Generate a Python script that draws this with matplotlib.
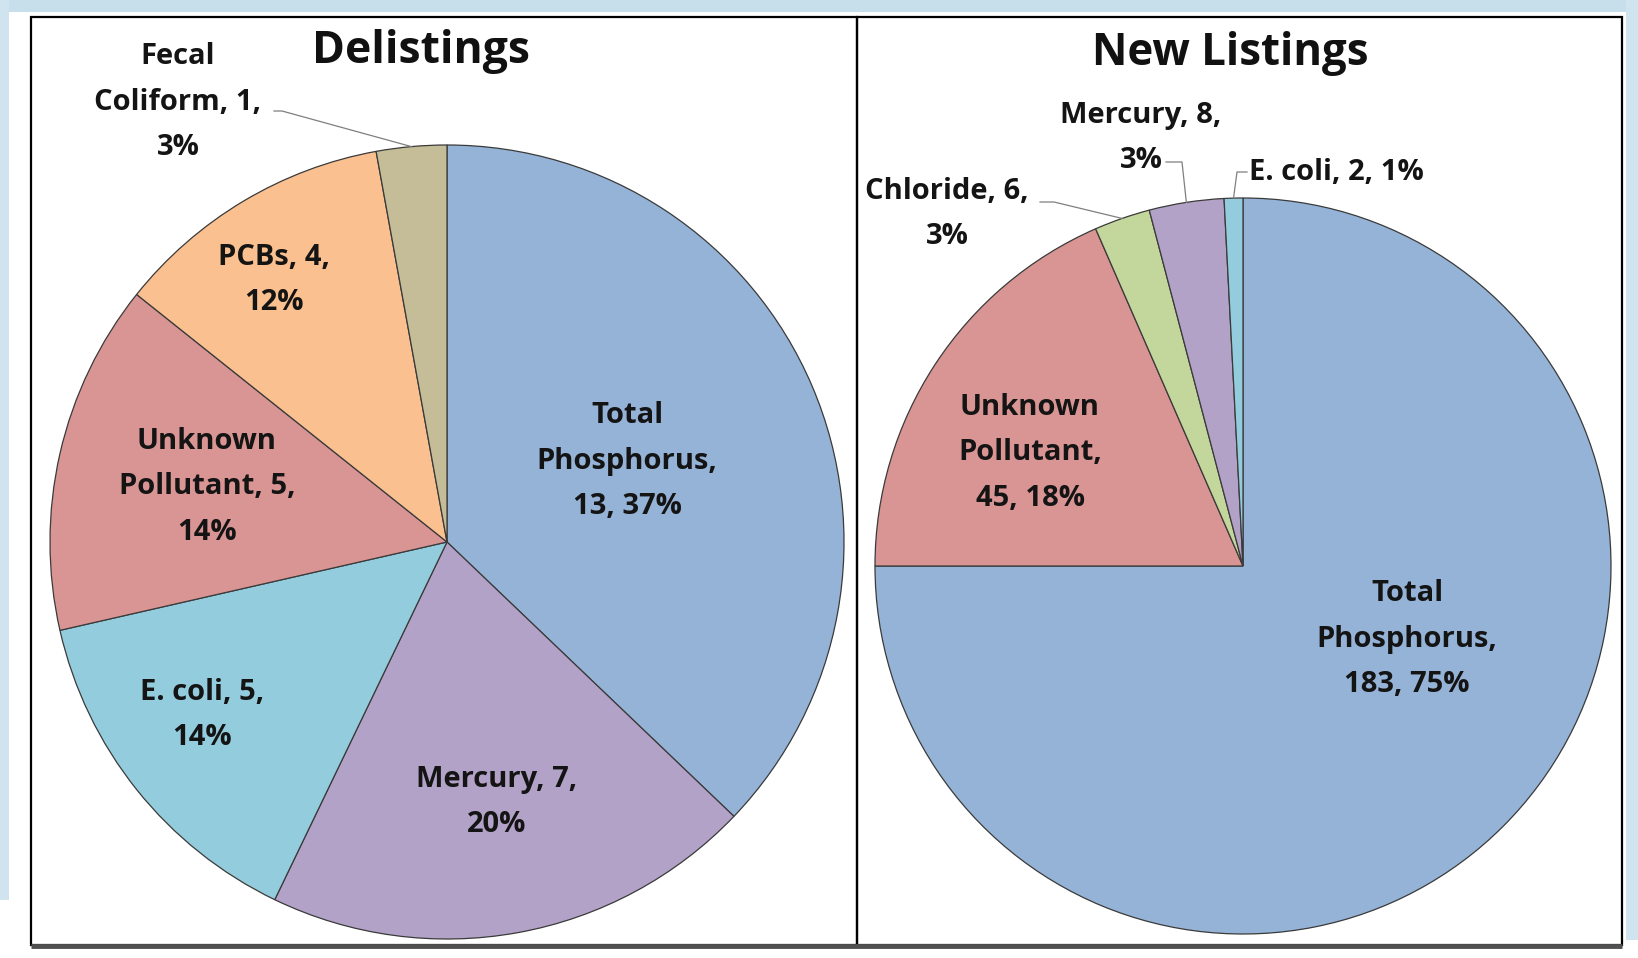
import matplotlib
matplotlib.use("Agg")
import matplotlib.pyplot as plt
import numpy as np
from matplotlib.patches import Rectangle

# ---------------- data ----------------
del_labels = ["Total\nPhosphorus,\n13, 37%", "Mercury, 7,\n20%", "E. coli, 5,\n14%",
              "Unknown\nPollutant, 5,\n14%", "PCBs, 4,\n12%", "Fecal\nColiform, 1,\n3%"]
del_values = [13, 7, 5, 5, 4, 1]
del_colors = ["#95b3d7", "#b3a2c7", "#93cddd", "#d99594", "#fac090", "#c4bd97"]

new_labels = ["Total\nPhosphorus,\n183, 75%", "Unknown\nPollutant,\n45, 18%",
              "Chloride, 6,\n3%", "Mercury, 8,\n3%", "E. coli, 2, 1%"]
new_values = [183, 45, 6, 8, 2]
new_colors = ["#95b3d7", "#d99594", "#c3d69b", "#b3a2c7", "#93cddd"]

W, H = 1638, 958
fig = plt.figure(figsize=(W / 100, H / 100), dpi=100)
fig.patch.set_facecolor("white")

FONT = "Open Sans"

# background strips (light blue frame of the slide)
bg = fig.add_axes([0, 0, 1, 1], zorder=-10)
bg.set_xlim(0, W); bg.set_ylim(H, 0); bg.axis("off")
bg.add_patch(Rectangle((0, 0), W, 12, color="#c6dfeb", lw=0))
bg.add_patch(Rectangle((0, 0), 9, 900, color="#cfe4ee", lw=0))
bg.add_patch(Rectangle((W - 12, 0), 12, 940, color="#cfe4ee", lw=0))
# panel borders
bg.add_patch(Rectangle((31, 17), 826, 928, fill=False, ec="black", lw=1.6))
bg.add_patch(Rectangle((857, 17), 765, 928, fill=False, ec="black", lw=1.6))
bg.plot([31, 1622], [946, 946], color="#505050", lw=3.5, solid_capstyle="butt")


def pie_axes(cx, cy, r):
    ax = fig.add_axes([(cx - r) / W, (H - cy - r) / H, 2 * r / W, 2 * r / H])
    return ax


def to_data(px, py, cx, cy, r):
    return (px - cx) / r, (cy - py) / r


def draw(ax, values, colors):
    wedges, _ = ax.pie(values, colors=colors, startangle=90, counterclock=False,
                       radius=1, wedgeprops=dict(edgecolor="#3a3a3a", linewidth=0.9))
    ax.set_xlim(-1, 1); ax.set_ylim(-1, 1)
    ax.set_aspect("equal"); ax.axis("off")
    mids = []
    for w in wedges:
        a = np.deg2rad((w.theta1 + w.theta2) / 2)
        mids.append((np.cos(a), np.sin(a)))
    return mids


txt = dict(fontsize=21, fontweight="bold", family=FONT, ha="center", va="center",
           color="#141414", linespacing=1.74)

# ---------------- left: Delistings ----------------
lcx, lcy, lr = 447, 542, 397
axL = pie_axes(lcx, lcy, lr)
midsL = draw(axL, del_values, del_colors)
pos_L = [(627, 461), (497, 802), (202, 715), (207, 487), (274, 280), (178, 102)]
for i, (lab, (px, py)) in enumerate(zip(del_labels, pos_L)):
    x, y = to_data(px, py, lcx, lcy, lr)
    axL.text(x, y, lab, clip_on=False, **txt)
# leader for Fecal Coliform
sx, sy = to_data(274, 111, lcx, lcy, lr)
kx, ky = to_data(282, 111, lcx, lcy, lr)
mx, my = midsL[5]
axL.plot([sx, kx, mx], [sy, ky, my], color="#7f7f7f", lw=0.9, clip_on=False)

fig.text(421 / W, 1 - 52 / H, "Delistings", fontsize=32, fontweight="bold",
         family=FONT, ha="center", va="center", color="#111111")

# ---------------- right: New Listings ----------------
rcx, rcy, rr = 1243, 566, 368
axR = pie_axes(rcx, rcy, rr)
midsR = draw(axR, new_values, new_colors)
pos_R = [(1407, 639), (1030, 453), (947, 214), (1141, 138)]
for lab, (px, py) in zip(new_labels[:4], pos_R):
    x, y = to_data(px, py, rcx, rcy, rr)
    axR.text(x, y, lab, clip_on=False, **txt)
x, y = to_data(1249, 173, rcx, rcy, rr)
axR.text(x, y, new_labels[4], clip_on=False, **{**txt, "ha": "left"})

# leaders
def leader(ax, p0, p1, mid):
    a = to_data(*p0, rcx, rcy, rr)
    b = to_data(*p1, rcx, rcy, rr)
    ax.plot([a[0], b[0], mid[0]], [a[1], b[1], mid[1]], color="#7f7f7f", lw=0.9,
            clip_on=False)

leader(axR, (1040, 202), (1054, 202), midsR[2])
leader(axR, (1166, 162), (1182, 162), midsR[3])
leader(axR, (1247, 172), (1237, 172), midsR[4])

fig.text(1230 / W, 1 - 53 / H, "New Listings", fontsize=31.5, fontweight="bold",
         family=FONT, ha="center", va="center", color="#111111")

fig.savefig("out.png", dpi=100, facecolor=fig.get_facecolor())
